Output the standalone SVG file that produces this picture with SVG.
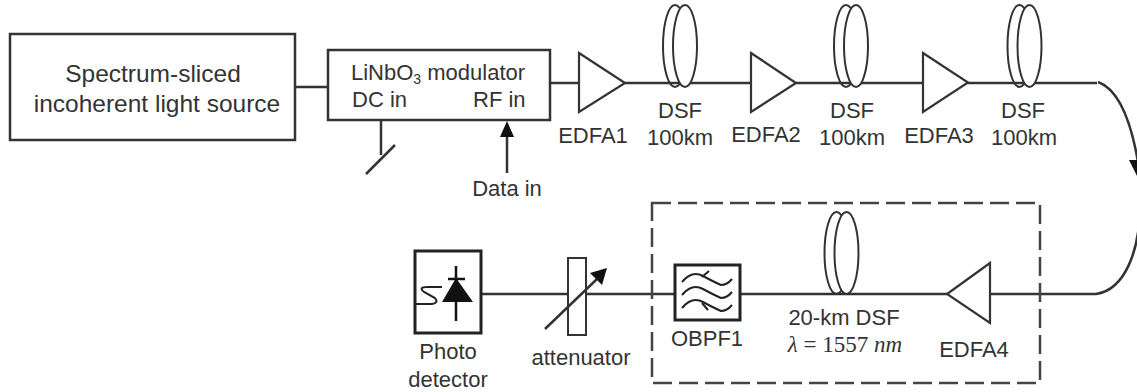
<svg xmlns="http://www.w3.org/2000/svg" width="1137" height="392" viewBox="0 0 1137 392">
<defs>
<g id="coil" fill="none" stroke="#333" stroke-width="2">
<ellipse cx="-5" cy="0" rx="12" ry="41"/>
<ellipse cx="5" cy="0" rx="12" ry="41" fill="#fff"/>
</g>
</defs>
<style>
text{font-family:"Liberation Sans",Arial,sans-serif;font-size:22px;fill:#333}
.box{fill:#fff;stroke:#333;stroke-width:2.5}
.line{fill:none;stroke:#333;stroke-width:2.5}
.tri{fill:#fff;stroke:#333;stroke-width:2.2}
.m{text-anchor:middle}
</style>
<rect width="1137" height="392" fill="#fff"/>
<g id="connectors">
<path class="line" d="M295 87H328M550 83H580M625 83H751M796 83H923M967 83H1097"/>
<path class="line" d="M1098 82C1120 90 1133 125 1140 175"/>
<path d="M1129 160L1137 176V160Z" fill="#111"/>
<path class="line" d="M1140 205C1140 250 1125 290 1096 294H990M947 294H740M675 294H587M568 294H481"/>
<path class="line" d="M381 120V155M366 174L395 145"/>
<path class="line" d="M507 173V130"/>
<path d="M507 121L500 137H514Z" fill="#111"/>
</g>
<g id="source"><rect class="box" x="10" y="34" width="285" height="106"/>
<text class="m" x="153" y="82" style="font-size:24.5px">Spectrum-sliced</text><text class="m" x="157" y="112" style="font-size:24.5px">incoherent light source</text></g>
<g id="modulator"><rect class="box" x="328" y="50" width="222" height="70"/>
<text x="351" y="80">LiNbO<tspan font-size="14" dy="4">3</tspan><tspan dy="-4"> modulator</tspan></text>
<text x="352" y="107">DC in</text><text x="473" y="107">RF in</text></g>
<text id="data-in" class="m" x="507" y="196">Data in</text>
<g id="edfa1"><path class="tri" d="M579 53L625 83L579 112Z"/><text class="m" x="593" y="143">EDFA1</text></g>
<g id="dsf1"><use href="#coil" x="680" y="46"/><text class="m" x="680" y="118">DSF</text><text class="m" x="680" y="145">100km</text></g>
<g id="edfa2"><path class="tri" d="M751 53L796 83L751 112Z"/><text class="m" x="766" y="142">EDFA2</text></g>
<g id="dsf2"><use href="#coil" x="851" y="46"/><text class="m" x="852" y="118">DSF</text><text class="m" x="852" y="145">100km</text></g>
<g id="edfa3"><path class="tri" d="M923 53L968 82.5L923 112Z"/><text class="m" x="939" y="143">EDFA3</text></g>
<g id="dsf3"><use href="#coil" x="1024.500" y="46"/><text class="m" x="1023" y="118">DSF</text><text class="m" x="1024" y="145">100km</text></g>
<g id="group"><rect x="652" y="203" width="388" height="180" fill="none" stroke="#444" stroke-width="2.5" stroke-dasharray="19 7"/></g>
<g id="edfa4"><path class="tri" d="M990 263V323L947 294Z"/><text class="m" x="974" y="357">EDFA4</text></g>
<g id="dsf4"><use href="#coil" x="841.500" y="253"/><text class="m" x="844" y="325">20-km DSF</text>
<text class="m" x="845" y="352" style="font-family:'Liberation Serif',serif;font-size:23px"><tspan font-style="italic">λ</tspan> = 1557 <tspan font-style="italic">nm</tspan></text></g>
<g id="obpf"><rect x="675" y="265" width="65" height="55" fill="#fff" stroke="#222" stroke-width="3"/>
<path d="M682 282Q692 270 703 276T721 285Q727 285 732 279M682 295Q692 283 703 289T721 298Q727 298 732 292M682 308Q692 296 703 302T721 311Q727 311 732 305" fill="none" stroke="#222" stroke-width="2"/>
<path d="M702 277L709 271M702 303L708 310" fill="none" stroke="#222" stroke-width="2"/>
<text class="m" x="707" y="346">OBPF1</text></g>
<g id="attenuator"><rect x="568" y="258" width="18" height="77" fill="#fff" stroke="#333" stroke-width="2"/>
<path class="line" d="M545 329L597 279"/><path d="M607 268L590 273L602 285Z" fill="#111"/>
<text class="m" x="581" y="365">attenuator</text></g>
<g id="photodetector"><rect x="415" y="251" width="66" height="82" fill="#fff" stroke="#222" stroke-width="3"/>
<path d="M442 302L456 278L473 302Z" fill="#111"/>
<path d="M448 279H465M456 266V321" stroke="#111" stroke-width="2.5" fill="none"/>
<path d="M442 287H427Q418 287 424 292L435 298Q439 303 432 304H416" fill="none" stroke="#222" stroke-width="2"/>
<text class="m" x="448" y="359">Photo</text><text class="m" x="448" y="387">detector</text></g>
</svg>
